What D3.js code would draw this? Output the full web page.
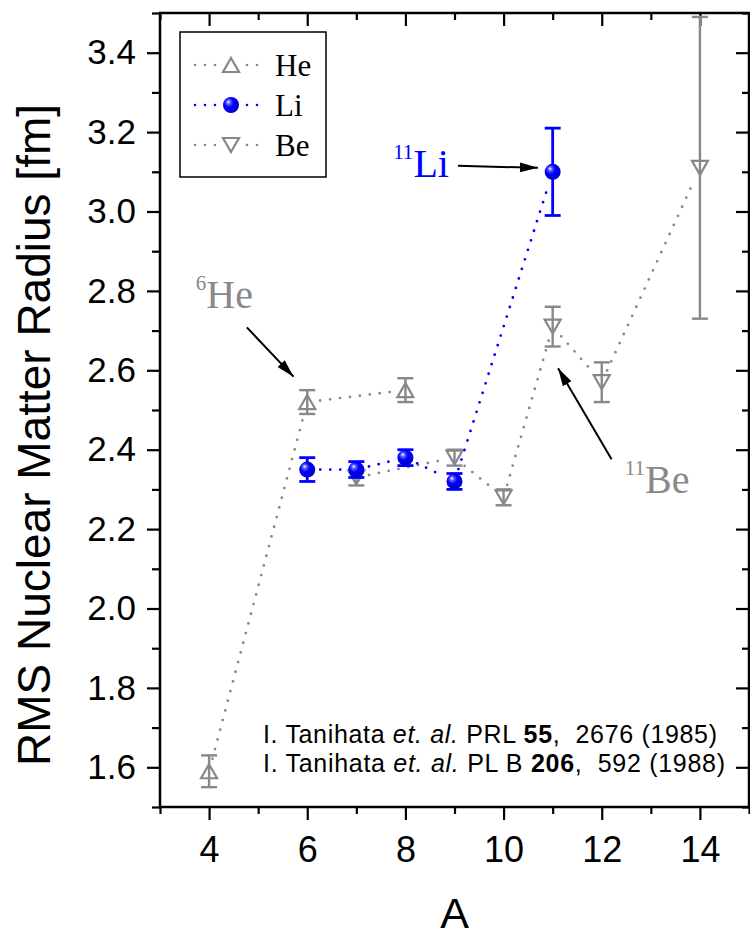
<!DOCTYPE html>
<html>
<head>
<meta charset="utf-8">
<script src="https://cdn.jsdelivr.net/npm/d3@7"></script>
<style>
  body { margin: 0; background: #fff; }
  text { white-space: pre; }
</style>
</head>
<body>
<div id="chart"></div>
<script>
// data: mass number A, RMS matter radius [fm], error
const heA = [4, 6, 8];
const heR = [1.59, 2.52, 2.55];
const heErr = [0.04, 0.03, 0.03];

const liA = [6, 7, 8, 9, 11];
const liR = [2.35, 2.35, 2.38, 2.32, 3.10];
const liErr = [0.03, 0.02, 0.02, 0.02, 0.11];

const beA = [7, 9, 10, 11, 12, 14];
const beR = [2.33, 2.38, 2.28, 2.71, 2.57, 3.11];
const beErr = [0.02, 0.02, 0.02, 0.05, 0.05, 0.38];

const xMajor = [4, 6, 8, 10, 12, 14];
const xMinor = [3, 5, 7, 9, 11, 13, 15];
const yMajor = [1.6, 1.8, 2.0, 2.2, 2.4, 2.6, 2.8, 3.0, 3.2, 3.4];
const yMinor = [1.5, 1.7, 1.9, 2.1, 2.3, 2.5, 2.7, 2.9, 3.1, 3.3, 3.5];

const refLines = [
    [["I. Tanihata ", "normal"], ["et. al.", "italic"], [" PRL ", "normal"], ["55", "bold"], [",  2676 (1985)", "normal"]],
    [["I. Tanihata ", "normal"], ["et. al.", "italic"], [" PL B ", "normal"], ["206", "bold"], [",  592 (1988)", "normal"]]
];
const refWidths = [454, 462];

const width = 750, height = 938;
const plot = {left: 160, right: 749, top: 13, bottom: 807};
const sans = "'Liberation Sans', Arial, Helvetica, sans-serif";
const serif = "'Liberation Serif', 'Times New Roman', serif";
const grey = "#888888";
const blue = "#0000ff";

const x = d3.scaleLinear().domain([3, 15]).range([plot.left, plot.right]);
const y = d3.scaleLinear().domain([1.5, 3.5]).range([plot.bottom, plot.top]);

const svg = d3.select("#chart")
    .append("svg")
    .attr("width", width)
    .attr("height", height);

const defs = svg.append("defs");
const grad = defs.append("radialGradient")
    .attr("id", "ball")
    .attr("cx", 0.4).attr("cy", 0.4).attr("r", 0.6)
    .attr("fx", 0.33).attr("fy", 0.3);
grad.append("stop").attr("offset", "0%").attr("stop-color", "#ffffff");
grad.append("stop").attr("offset", "22%").attr("stop-color", "#5a5aff");
grad.append("stop").attr("offset", "50%").attr("stop-color", "#0000ff");
grad.append("stop").attr("offset", "100%").attr("stop-color", "#0000c8");

defs.append("marker")
    .attr("id", "arrow")
    .attr("viewBox", "0 0 18 10")
    .attr("refX", 18).attr("refY", 5)
    .attr("markerWidth", 18).attr("markerHeight", 10)
    .attr("markerUnits", "userSpaceOnUse")
    .attr("orient", "auto")
    .append("path")
    .attr("d", "M0,0 L18,5 L0,10 Z")
    .attr("fill", "#000");

/*********************************************/
/*                 axes                      */
/*********************************************/
const styleAxis = g => {
    g.select(".domain").remove();
    g.selectAll("line").attr("stroke", "#000").attr("stroke-width", 2.2);
};

svg.append("g")
    .attr("transform", `translate(0,${plot.bottom})`)
    .call(d3.axisBottom(x).tickValues(xMajor).tickSize(13).tickFormat(d3.format("d")))
    .call(styleAxis)
    .call(g => g.selectAll("text")
        .attr("y", 55).attr("dy", null)
        .attr("font-family", sans).attr("font-size", 36).attr("fill", "#000"));

svg.append("g")
    .attr("transform", `translate(0,${plot.bottom})`)
    .call(d3.axisBottom(x).tickValues(xMinor).tickSize(7).tickFormat(""))
    .call(styleAxis);

svg.append("g")
    .attr("transform", `translate(0,${plot.top})`)
    .call(d3.axisTop(x).tickValues(xMajor).tickSize(-13).tickFormat(""))
    .call(styleAxis);

svg.append("g")
    .attr("transform", `translate(0,${plot.top})`)
    .call(d3.axisTop(x).tickValues(xMinor).tickSize(-7).tickFormat(""))
    .call(styleAxis);

svg.append("g")
    .attr("transform", `translate(${plot.left},0)`)
    .call(d3.axisLeft(y).tickValues(yMajor).tickSize(13).tickPadding(11).tickFormat(d3.format(".1f")))
    .call(styleAxis)
    .call(g => g.selectAll("text")
        .attr("font-family", sans).attr("font-size", 35).attr("fill", "#000"));

svg.append("g")
    .attr("transform", `translate(${plot.left},0)`)
    .call(d3.axisLeft(y).tickValues(yMinor).tickSize(8).tickFormat(""))
    .call(styleAxis);

svg.append("g")
    .attr("transform", `translate(${plot.right},0)`)
    .call(d3.axisRight(y).tickValues(yMajor).tickSize(-13).tickFormat(""))
    .call(styleAxis);

svg.append("g")
    .attr("transform", `translate(${plot.right},0)`)
    .call(d3.axisRight(y).tickValues(yMinor).tickSize(-7).tickFormat(""))
    .call(styleAxis);

svg.append("rect")
    .attr("x", plot.left).attr("y", plot.top)
    .attr("width", plot.right - plot.left).attr("height", plot.bottom - plot.top)
    .attr("fill", "none").attr("stroke", "#000").attr("stroke-width", 2.5);

// axis titles
svg.append("text")
    .attr("x", (plot.left + plot.right) / 2).attr("y", 928)
    .attr("text-anchor", "middle")
    .attr("font-family", sans).attr("font-size", 43)
    .text("A");

svg.append("text")
    .attr("transform", "translate(50,435) rotate(-90)")
    .attr("text-anchor", "middle")
    .attr("font-family", sans).attr("font-size", 46)
    .text("RMS Nuclear Matter Radius [fm]");

/*********************************************/
/*               series                      */
/*********************************************/
const makeRows = (a, r, e) => a.map((d, i) => ({a: d, r: r[i], e: e[i]}));
const series = [
    {name: "He", rows: makeRows(heA, heR, heErr), color: grey, marker: "up"},
    {name: "Be", rows: makeRows(beA, beR, beErr), color: grey, marker: "down"},
    {name: "Li", rows: makeRows(liA, liR, liErr), color: blue, marker: "ball"}
];

const triPath = (dir) => {
    const w = 16, h = 14;
    return dir === "up"
        ? `M0,${-h / 2} L${w / 2},${h / 2} L${-w / 2},${h / 2} Z`
        : `M0,${h / 2} L${w / 2},${-h / 2} L${-w / 2},${-h / 2} Z`;
};

const drawMarker = (g, type, color) => {
    if (type === "ball") {
        g.append("circle").attr("r", 8).attr("fill", "url(#ball)");
    } else {
        g.append("path").attr("d", triPath(type))
            .attr("fill", "none").attr("stroke", color).attr("stroke-width", 2.2);
    }
};

// dotted connecting segments, shortened near markers
const gap = 13;
const dotted = (g, pts, color) => {
    for (let i = 0; i < pts.length - 1; i++) {
        const [x1, y1] = pts[i], [x2, y2] = pts[i + 1];
        const len = Math.hypot(x2 - x1, y2 - y1);
        if (len <= 2 * gap) continue;
        const ux = (x2 - x1) / len, uy = (y2 - y1) / len;
        g.append("line")
            .attr("x1", x1 + ux * gap).attr("y1", y1 + uy * gap)
            .attr("x2", x2 - ux * gap).attr("y2", y2 - uy * gap)
            .attr("stroke", color).attr("stroke-width", 2.8)
            .attr("stroke-linecap", "round")
            .attr("stroke-dasharray", "0 10");
    }
};

series.forEach(s => {
    const g = svg.append("g");
    dotted(g, s.rows.map(d => [x(d.a), y(d.r)]), s.color);

    const eb = g.selectAll(".eb").data(s.rows).join("g")
        .attr("stroke", s.color).attr("stroke-width", s.marker === "ball" ? 2.8 : 2.4);
    eb.append("line")
        .attr("x1", d => x(d.a)).attr("x2", d => x(d.a))
        .attr("y1", d => y(d.r + d.e)).attr("y2", d => y(d.r - d.e));
    eb.append("line")
        .attr("x1", d => x(d.a) - 8).attr("x2", d => x(d.a) + 8)
        .attr("y1", d => y(d.r + d.e)).attr("y2", d => y(d.r + d.e));
    eb.append("line")
        .attr("x1", d => x(d.a) - 8).attr("x2", d => x(d.a) + 8)
        .attr("y1", d => y(d.r - d.e)).attr("y2", d => y(d.r - d.e));

    g.selectAll(".mk").data(s.rows).join("g")
        .attr("transform", d => `translate(${x(d.a)},${y(d.r)})`)
        .each(function () { drawMarker(d3.select(this), s.marker, s.color); });
});

/*********************************************/
/*                 legend                    */
/*********************************************/
const legendItems = [
    {name: "He", color: grey, marker: "up"},
    {name: "Li", color: blue, marker: "ball"},
    {name: "Be", color: grey, marker: "down"}
];

svg.append("rect")
    .attr("x", 180).attr("y", 32).attr("width", 146).attr("height", 145)
    .attr("fill", "#fff").attr("stroke", "#000").attr("stroke-width", 1.5);

const leg = svg.selectAll(".leg").data(legendItems).join("g")
    .attr("transform", (d, i) => `translate(231,${65 + i * 40})`);

leg.each(function (d) {
    const g = d3.select(this);
    [[-36, -15], [16, 36]].forEach(([a, b]) => {
        g.append("line").attr("x1", a).attr("x2", b).attr("y1", 0).attr("y2", 0)
            .attr("stroke", d.color).attr("stroke-width", 2.6)
            .attr("stroke-linecap", "round").attr("stroke-dasharray", "0 10");
    });
    drawMarker(g, d.marker, d.color);
    g.append("text")
        .attr("x", 44).attr("y", 11)
        .attr("font-family", serif).attr("font-size", 31)
        .text(d.name);
});

/*********************************************/
/*              annotations                  */
/*********************************************/
const notes = [
    {sup: "11", main: "Li", color: blue, at: [7.75, 3.087], from: [9.07, 3.115], to: [10.70, 3.11]},
    {sup: "6", main: "He", color: grey, at: [3.73, 2.757], from: [4.77, 2.708], to: [5.72, 2.584]},
    {sup: "11", main: "Be", color: grey, at: [12.47, 2.291], from: [12.20, 2.376], to: [11.11, 2.605]}
];

notes.forEach(n => {
    const t = svg.append("text")
        .attr("x", x(n.at[0])).attr("y", y(n.at[1]))
        .attr("font-family", serif).attr("fill", n.color);
    t.append("tspan").attr("font-size", 21).attr("dy", -18).text(n.sup);
    t.append("tspan").attr("font-size", 40).attr("dy", 18).text(n.main);

    svg.append("line")
        .attr("x1", x(n.from[0])).attr("y1", y(n.from[1]))
        .attr("x2", x(n.to[0])).attr("y2", y(n.to[1]))
        .attr("stroke", "#000").attr("stroke-width", 2)
        .attr("marker-end", "url(#arrow)");
});

// reference text
refLines.forEach((line, i) => {
    const t = svg.append("text")
        .attr("x", 263).attr("y", 743 + i * 29)
        .attr("textLength", refWidths[i])
        .attr("lengthAdjust", "spacing")
        .attr("font-family", sans).attr("font-size", 25).attr("fill", "#000");
    line.forEach(([str, style]) => {
        const sp = t.append("tspan").text(str);
        if (style === "italic") sp.attr("font-style", "italic");
        if (style === "bold") sp.attr("font-weight", "bold");
    });
});
</script>
</body>
</html>
